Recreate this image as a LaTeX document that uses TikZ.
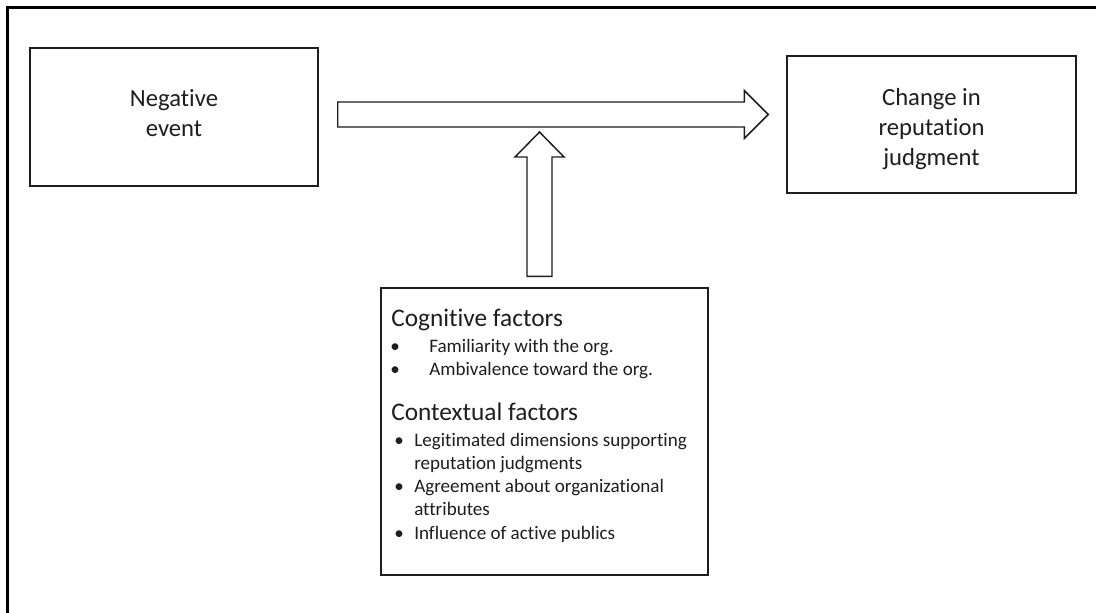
\documentclass[tikz,border=0pt]{standalone}
\usepackage{fontspec}
\setmainfont[Ligatures=NoCommon]{Carlito}
\usetikzlibrary{positioning, calc}
\definecolor{inkgray}{RGB}{30, 30, 30}

\tikzset{
  box/.style={draw=inkgray, line width=1.1pt, inner sep=0pt},
  boxtext/.style={align=center, inner sep=0pt, text=inkgray, font=\fontsize{18.5}{22.5}\selectfont},
  blockarrow/.style={draw=inkgray, line width=1.1pt, fill=white, line join=miter},
  headtext/.style={anchor=base west, inner sep=0pt, text=inkgray, font=\fontsize{19}{22}\selectfont},
  itemtext/.style={anchor=base west, inner sep=0pt, text=inkgray, font=\fontsize{14.3}{17}\selectfont}
}

\begin{document}
\begin{tikzpicture}[x=0.75pt, y=-0.75pt]
  \useasboundingbox (0,0) rectangle (1096,612);
  \fill[white] (0,0) rectangle (1096,612);
  % outer frame (only top and left edges visible)
  \draw[line width=1.6pt, black] (7.5,640) -- (7.5,7.5) -- (1120,7.5);

  % boxes
  \node[box, minimum width=216pt, minimum height=103.5pt] (neg) at (174,117) {};
  \node[box, minimum width=216.75pt, minimum height=102.75pt] (chg) at (931.5,124.5) {};
  \node[box, minimum width=245.25pt, minimum height=215.25pt] (fac) at (544.5,431.5) {};

  \node[boxtext] (negtxt) at ($(neg.center)+(0,-4)$) {Negative\\event};
  \node[boxtext] (chgtxt) at ($(chg.center)+(0,5)$) {Change in\\reputation\\judgment};

  % block arrows
  \coordinate (htail) at ($(neg.east)+(19,-2.5)$);
  \coordinate (hhead) at ($(chg.west)+(-18,-10)$);
  \draw[blockarrow] ($(htail)+(0,-12.5)$) -- ($(hhead)+(-24,-12.5)$) -- ($(hhead)+(-24,-24)$)
    -- (hhead) -- ($(hhead)+(-24,24)$) -- ($(hhead)+(-24,12.5)$) -- ($(htail)+(0,12.5)$) -- cycle;

  \coordinate (vtail) at ($(fac.north)+(-5,-11)$);
  \coordinate (vhead) at ($(htail -| vtail)+(0,17.5)$);
  \draw[blockarrow] ($(vtail)+(-12.5,0)$) -- ($(vhead)+(-12.5,25)$) -- ($(vhead)+(-24.5,25)$)
    -- (vhead) -- ($(vhead)+(24.5,25)$) -- ($(vhead)+(12.5,25)$) -- ($(vtail)+(12.5,0)$) -- cycle;

  % factors
  \node[headtext] (coghead) at (391,326) {Cognitive factors};
  \node[itemtext] (cogbulA) at (390,352) {\textbullet};
  \node[itemtext] (cogA) at (429,352) {Familiarity with the org.};
  \node[itemtext] (cogbulB) at (390,375) {\textbullet};
  \node[itemtext] (cogB) at (429,375) {Ambivalence toward the org.};

  \node[headtext] (ctxhead) at (391,420) {Contextual factors};
  \node[itemtext] (ctxbulA) at (394,446) {\textbullet};
  \node[itemtext] (ctxA) at (414,446) {Legitimated dimensions supporting};
  \node[itemtext] (ctxAcont) at (414,469) {reputation judgments};
  \node[itemtext] (ctxbulB) at (394,492) {\textbullet};
  \node[itemtext] (ctxB) at (414,492) {Agreement about organizational};
  \node[itemtext] (ctxBcont) at (414,515) {attributes};
  \node[itemtext] (ctxbulC) at (394,539) {\textbullet};
  \node[itemtext] (ctxC) at (414,539) {Influence of active publics};
\end{tikzpicture}
\end{document}
